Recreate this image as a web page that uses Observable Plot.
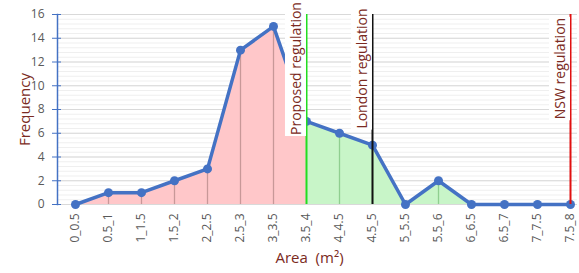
<!DOCTYPE html>
<html>
<head>
<meta charset="utf-8">
<script src="https://cdn.jsdelivr.net/npm/d3@7"></script>
<script src="https://cdn.jsdelivr.net/npm/@observablehq/plot@0.6"></script>
<style>
  body { margin: 0; background: #fff; }
  #chart { width: 579px; height: 273px; }
  svg { font-family: "Open Sans", sans-serif; }
</style>
</head>
<body>
<div id="chart"></div>
<script>
const categories = ["0_0.5","0.5_1","1_1.5","1.5_2","2_2.5","2.5_3","3_3.5","3.5_4","4_4.5","4.5_5","5_5.5","5.5_6","6_6.5","6.5_7","7_7.5","7.5_8"];
const frequency = [0, 1, 1, 2, 3, 13, 15, 7, 6, 5, 0, 2, 0, 0, 0, 0];
const yTicks = [0, 2, 4, 6, 8, 10, 12, 14, 16];
const regulations = [
  {label: "Proposed regulation", at: "3.5_4", color: "#22dd22"},
  {label: "London regulation", at: "4.5_5", color: "#111111"},
  {label: "NSW regulation", at: "7.5_8", color: "#e01010"}
];
const redEnd = "3.5_4";
const greenEnd = "6_6.5";

const data = categories.map((c, i) => ({cat: c, i, v: frequency[i]}));
const iRed = categories.indexOf(redEnd);
const iGreen = categories.indexOf(greenEnd);
const redData = data.filter(d => d.i <= iRed);
const greenData = data.filter(d => d.i >= iRed && d.i <= iGreen);
const minorTicks = d3.range(0, 16.001, 0.4);

const labelColor = "#7b2a22";

const plot = Plot.plot({
  width: 579,
  height: 273,
  marginLeft: 57,
  marginRight: 2,
  marginTop: 14,
  marginBottom: 69,
  x: {type: "point", domain: categories, range: [73, 571], padding: 0},
  y: {domain: [0, 16], ticks: yTicks},
  style: {fontFamily: "Open Sans, sans-serif", background: "#fff"},
  marks: [
    Plot.ruleY(minorTicks, {stroke: "#efefef", strokeWidth: 1}),
    Plot.ruleY(yTicks, {stroke: "#d9d9d9", strokeWidth: 1}),
    Plot.areaY(redData, {x: "cat", y: "v", fill: "#ffc7c9", curve: "linear"}),
    Plot.areaY(greenData, {x: "cat", y: "v", fill: "#c8f5c8", curve: "linear"}),
    Plot.ruleX(redData.filter(d => d.i < iRed), {x: "cat", y1: 0, y2: "v", stroke: "#c89898", strokeWidth: 1.3}),
    Plot.ruleX(greenData.filter(d => d.i > iRed), {x: "cat", y1: 0, y2: "v", stroke: "#8fcf8f", strokeWidth: 1.3}),
    Plot.lineY(data, {x: "cat", y: "v", stroke: "#4472c4", strokeWidth: 3.5}),
    Plot.dot(data, {x: "cat", y: "v", r: 4.5, fill: "#4472c4"}),
    Plot.ruleX(regulations, {x: "at", y1: 0, y2: 16, stroke: "color", strokeWidth: 2}),
    Plot.text(regulations, {x: "at", y: 11.45, text: "label", rotate: -90, textAnchor: "middle", lineAnchor: "middle", dx: -10, fill: labelColor, fontSize: 14, className: "reglabel"}),
    Plot.axisY({ticks: yTicks, tickSize: 5, stroke: "#4472c4", fill: "#595959", fontSize: 12, tickPadding: 8, label: null}),
    Plot.axisY({ticks: yTicks, tickSize: -4, stroke: "#4472c4", text: null, label: null}),
    Plot.frame({anchor: "left", stroke: "#4472c4", strokeWidth: 1.5}),
    Plot.axisX({tickSize: 0, tickRotate: -90, fill: "#595959", fontSize: 12, tickPadding: 9, label: null}),
    Plot.text(["Frequency"], {frameAnchor: "left", dx: -32, rotate: -90, fill: labelColor, fontSize: 15, textAnchor: "middle"}),
    Plot.text(["Area  (m²)"], {frameAnchor: "bottom", dy: 58, dx: -8, fill: labelColor, fontSize: 15, textAnchor: "middle"})
  ]
});
document.getElementById("chart").appendChild(plot);

// white boxes behind regulation labels
const regGroup = plot.querySelector("g.reglabel");
const sr = plot.getBoundingClientRect();
d3.select(regGroup).selectAll("text").each(function() {
  const r = this.getBoundingClientRect();
  const rect = document.createElementNS("http://www.w3.org/2000/svg", "rect");
  rect.setAttribute("x", r.left - sr.left - 1);
  rect.setAttribute("y", Math.max(0, r.top - sr.top - 1));
  rect.setAttribute("width", r.width + 2);
  rect.setAttribute("height", r.height + 2);
  rect.setAttribute("fill", "#fff");
  plot.insertBefore(rect, regGroup);
});
</script>
</body>
</html>
